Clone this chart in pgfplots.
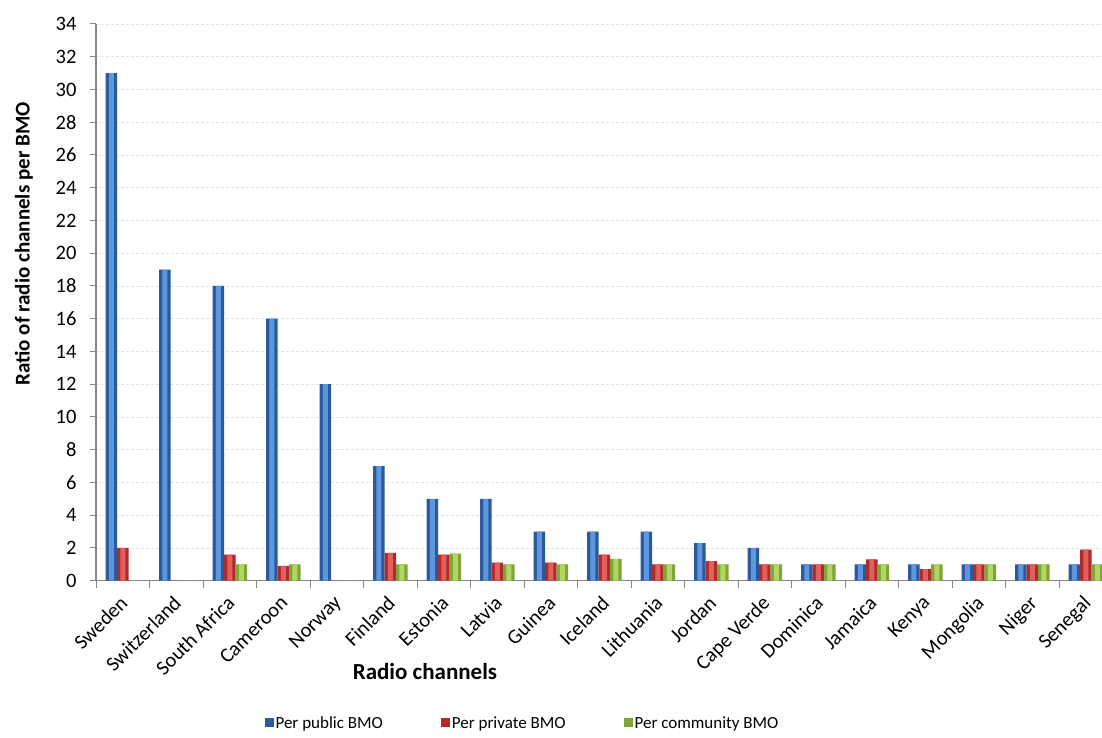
\documentclass[border=0pt]{standalone}
\usepackage{fontspec}
\setmainfont{Carlito}
\usepackage{pgfplots}
\usepackage{pgfplotstable}
\pgfplotsset{compat=1.18}
\definecolor{bdark}{HTML}{2A5A9E}
\definecolor{blight}{HTML}{5E97DC}
\definecolor{rdark}{HTML}{B02A2A}
\definecolor{rlight}{HTML}{E2605C}
\definecolor{gdark}{HTML}{7FA535}
\definecolor{glight}{HTML}{B2D565}
\definecolor{axgray}{HTML}{868686}
\pgfplotstableread{
idx public private community
0  31   2.0  0
1  19   0    0
2  18   1.6  1.0
3  16   0.9  1.0
4  12   0    0
5  7    1.7  1.0
6  5    1.6  1.65
7  5    1.1  1.0
8  3    1.1  1.0
9  3    1.6  1.33
10 3    1.0  1.0
11 2.3  1.2  1.0
12 2    1.0  1.0
13 1    1.0  1.0
14 1    1.3  1.0
15 1    0.7  1.0
16 1    1.0  1.0
17 1    1.0  1.0
18 1    1.9  1.0
}\datatable
\begin{document}
\begin{tikzpicture}[x=1pt,y=1pt]
\path[use as bounding box] (0,0) rectangle (1102,738);
\begin{axis}[
  at={(96pt,157.3pt)}, anchor=south west,
  scale only axis, width=1006pt, height=556.7pt,
  ybar=0pt, bar width=11.5pt,
  xmin=-0.5, xmax=18.3, ymin=0, ymax=34,
  ytick={0,2,...,34},
  xtick={0,...,18},
  xticklabels={Sweden,Switzerland,South Africa,Cameroon,Norway,Finland,Estonia,Latvia,Guinea,Iceland,Lithuania,Jordan,Cape Verde,Dominica,Jamaica,Kenya,Mongolia,Niger,Senegal},
  minor xtick={-0.5,0.5,...,18.5},
  major x tick style={draw=none},
  minor x tick style={draw=axgray, line width=1pt},
  y tick style={draw=axgray, line width=1pt},
  tick align=outside,
  major tick length=6pt, minor tick length=7pt,
  axis x line*=bottom, axis y line*=left,
  axis line style={draw=axgray, line width=1.2pt},
  ymajorgrids=true,
  grid style={draw=gray!22, dash pattern=on 3pt off 2pt, line width=0.6pt},
  /pgf/number format/assume math mode=true,
  yticklabel style={font=\fontsize{20.5}{24}\selectfont, xshift=-10pt},
  xticklabel style={font=\fontsize{20.5}{24}\selectfont, xshift=-4pt, yshift=-6pt, rotate=45, anchor=north east, inner sep=1pt},
  xlabel={Radio channels},
  xlabel style={font=\bfseries\fontsize{23}{27}\selectfont, at={(axis description cs:0.327,-0.163)}, anchor=center},
  ylabel={Ratio of radio channels per BMO},
  ylabel style={font=\bfseries\fontsize{21}{25}\selectfont, at={(axis description cs:-0.0716,0.605)}, anchor=center},
  legend style={at={(axis description cs:0.424,-0.2556)}, anchor=center, draw=none, fill=none,
    legend columns=3, font=\fontsize{17}{20}\selectfont,
    /tikz/every even column/.append style={column sep=56pt}},
  legend image code/.code={\path[#1] (0pt,-4.5pt) rectangle (9pt,4.5pt);},
  clip=true,
]
\addplot[fill=bdark, draw=none, bar shift=-11.5pt] table[x=idx,y=public] {\datatable};
\addplot[fill=rdark, draw=none, bar shift=0pt] table[x=idx,y=private] {\datatable};
\addplot[fill=gdark, draw=none, bar shift=11.5pt] table[x=idx,y=community] {\datatable};
\legend{Per public BMO,Per private BMO,Per community BMO}
\addplot[fill=blight, draw=none, bar shift=-11.5pt, bar width=5pt, forget plot] table[x=idx,y=public] {\datatable};
\addplot[fill=rlight, draw=none, bar shift=0pt, bar width=5pt, forget plot] table[x=idx,y=private] {\datatable};
\addplot[fill=glight, draw=none, bar shift=11.5pt, bar width=5pt, forget plot] table[x=idx,y=community] {\datatable};
\end{axis}
\end{tikzpicture}
\end{document}
